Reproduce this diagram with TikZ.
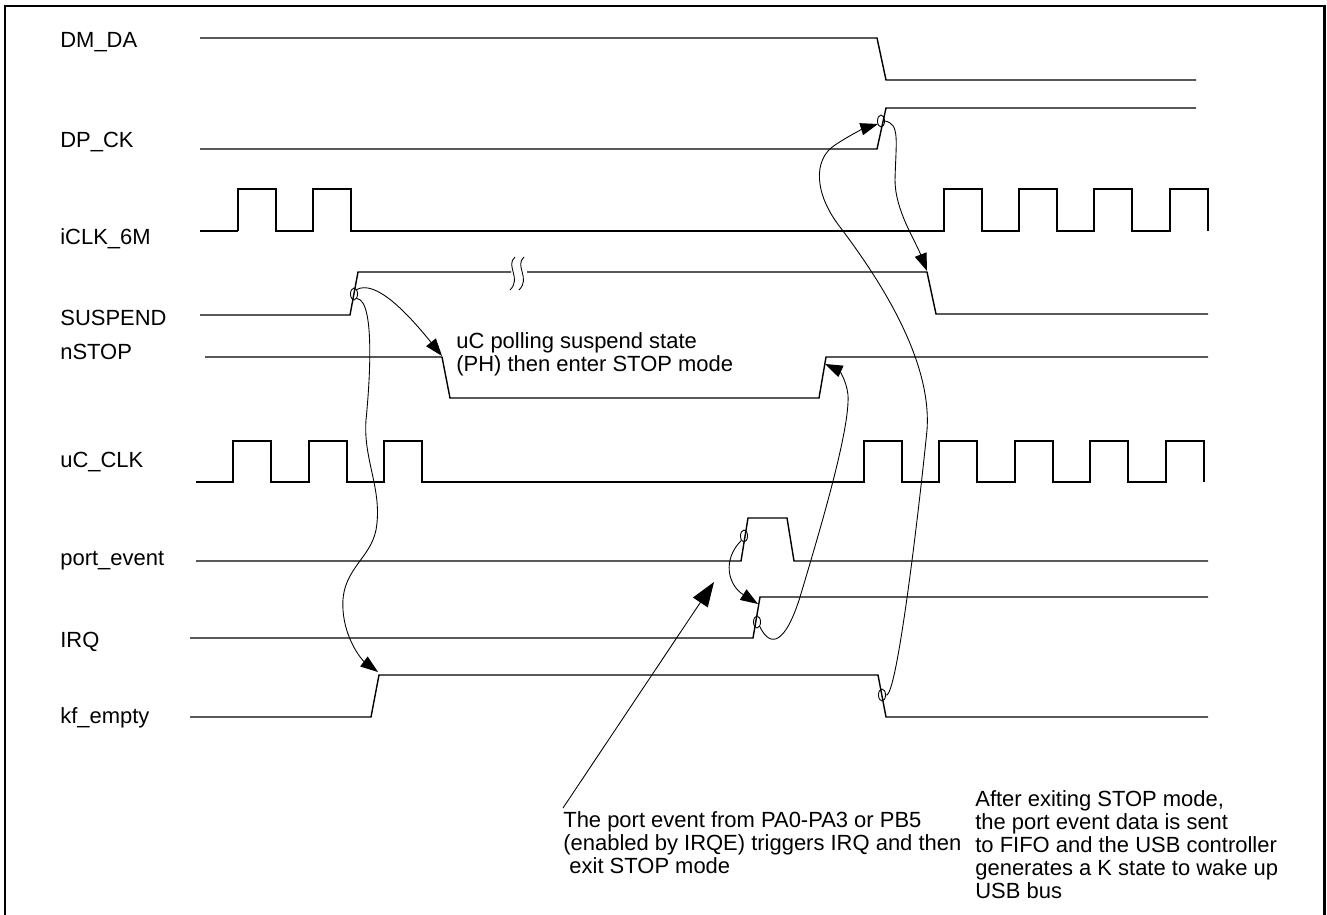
\documentclass[tikz,border=0pt]{standalone}
\usepackage{fontspec}
\setmainfont{Liberation Sans}
\usetikzlibrary{arrows.meta,shapes.geometric}

\begin{document}
\begin{tikzpicture}
  [x=0.02cm,y=-0.02cm,
   every node/.style={inner sep=0pt,font=\fontsize{12.5}{13}\selectfont},
   sig/.style={line width=0.8pt},
   lnk/.style={line width=0.5pt},
   tip/.style={lnk,-{Triangle[length=10pt,width=7pt]}},
   bigtip/.style={lnk,-{Triangle[length=14pt,width=10pt]}},
   ring/.style={draw,ellipse,line width=0.5pt,minimum width=4pt,minimum height=6.8pt}]
  \useasboundingbox (0,0) rectangle (1327,915);
  \draw[line width=1.7pt] (5,917) -- (5,6) -- (1324,6) -- (1324,917);

  % signal names
  \foreach \name/\y/\txt in {dm/48/DM\_DA,dp/148/DP\_CK,ick/245/iCLK\_6M,sus/325/SUSPEND,
      nst/359/nSTOP,uck/467/uC\_CLK,pe/565/port\_event,irq/647/IRQ,kf/723/kf\_empty}
    \node[anchor=base west] (l\name) at (60,\y) {\txt};

  % waveforms
  \draw[sig] (200,38) -- (877,38) -- (886,80) -- (1196,80);
  \draw[sig] (200,149) -- (877,149) -- (886,108) -- (1196,108);
  \draw[line width=1.4pt] (200,231) -- (238,231);
  \draw[sig] (238,231)
    foreach \x in {238,313,944,1019,1094,1170} {-- (\x,231) -- (\x,189) -- (\x+38,189) -- (\x+38,231)};
  \draw[sig] (200,315) -- (350,315) -- (358,272) -- (511,272);
  \draw[sig] (527,272) -- (927,272) -- (936,314) -- (1208,314);
  \draw[lnk] (515,257) .. controls (505,266) and (522,278) .. (510,290);
  \draw[lnk] (524,257) .. controls (514,266) and (531,278) .. (519,290);
  \draw[sig] (205,357) -- (442,357) -- (450,398) -- (819,398) -- (826,357) -- (1208,357);
  \draw[sig] (196,482)
    foreach \x in {233,309,384,864,939,1015,1090,1166} {-- (\x,482) -- (\x,441) -- (\x+38,441) -- (\x+38,482)};
  \draw[sig] (196,561) -- (741,561) -- (748,518) -- (787,518) -- (794,561) -- (1208,561);
  \draw[sig] (190,638) -- (753,638) -- (760,597) -- (1208,597);
  \draw[sig] (190,717) -- (371,717) -- (379,675) -- (878,675) -- (886,717) -- (1208,717);

  % edge markers
  \node[ring] (eDP) at (881,121) {};
  \node[ring] (eSUS) at (354,294) {};
  \node[ring] (ePE) at (744,536) {};
  \node[ring] (eIRQ) at (757,622) {};
  \node[ring] (eKF) at (882,695) {};
  \coordinate (tNSf) at (442,356);
  \coordinate (tKF) at (378,672);
  \coordinate (tDP) at (878,124);
  \coordinate (tSUS) at (927,271);
  \coordinate (tNSr) at (825,364);
  \coordinate (tIRQ) at (758,604);

  % causes
  \draw[tip] (eSUS.north east) .. controls (375,280) and (405,310) .. (tNSf);
  \draw[tip] (eSUS.south east) .. controls (375,300) and (370,380) .. (366,420)
    .. controls (363,460) and (383,490) .. (376,530)
    .. controls (370,560) and (340,570) .. (343,610)
    .. controls (345,640) and (362,660) .. (tKF);
  \draw[tip] (ePE.south west) .. controls (722,560) and (728,585) .. (tIRQ);
  \draw[tip] (eIRQ.south east) .. controls (770,648) and (785,645) .. (800,597)
    .. controls (820,530) and (850,430) .. (848,395)
    .. controls (846,378) and (838,370) .. (tNSr);
  \draw[tip] (eDP.east) .. controls (900,124) and (896,140) .. (895,180)
    .. controls (895,210) and (915,240) .. (tSUS);
  \draw[tip] (eKF.east) .. controls (897,700) and (920,500) .. (927,430)
    .. controls (932,360) and (880,280) .. (840,227)
    .. controls (815,195) and (812,160) .. (835,145)
    .. controls (850,135) and (865,128) .. (tDP);

  % notes
  \node[anchor=base west,align=left] (nPoll) at (456,371)
    {uC polling suspend state\\(PH) then enter STOP mode};
  \node[anchor=base west,align=left] (nPort) at (563,873)
    {The port event from PA0-PA3 or PB5\\(enabled by IRQE) triggers IRQ and then\\\ exit STOP mode};
  \node[anchor=base west,align=left] (nWake) at (975,898)
    {After exiting STOP mode,\\the port event data is sent\\to FIFO and the USB controller\\generates a K state to wake up\\USB bus};
  \coordinate (aPort) at (563,808);
  \coordinate (tPort) at (714,582);
  \draw[bigtip] (aPort) -- (tPort);
\end{tikzpicture}
\end{document}
